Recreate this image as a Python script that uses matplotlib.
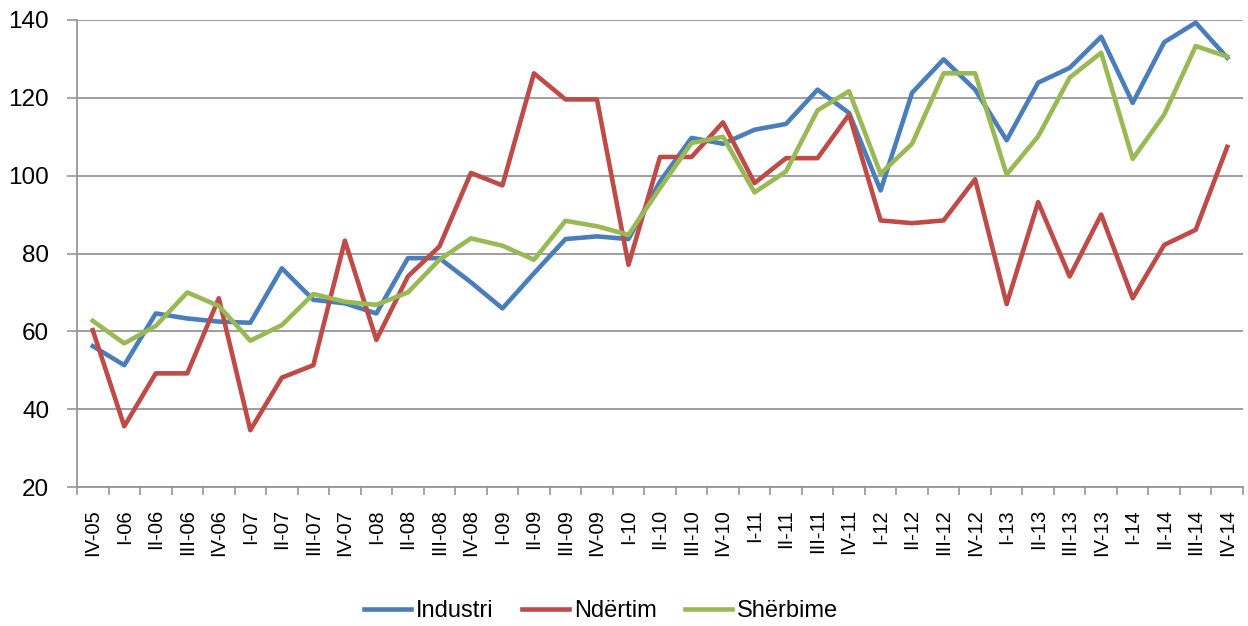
import matplotlib
matplotlib.use("Agg")
import matplotlib.pyplot as plt
import numpy as np

plt.rcParams['font.family'] = ['Liberation Sans', 'DejaVu Sans']

quarters = ['IV-05',
            'I-06', 'II-06', 'III-06', 'IV-06',
            'I-07', 'II-07', 'III-07', 'IV-07',
            'I-08', 'II-08', 'III-08', 'IV-08',
            'I-09', 'II-09', 'III-09', 'IV-09',
            'I-10', 'II-10', 'III-10', 'IV-10',
            'I-11', 'II-11', 'III-11', 'IV-11',
            'I-12', 'II-12', 'III-12', 'IV-12',
            'I-13', 'II-13', 'III-13', 'IV-13',
            'I-14', 'II-14', 'III-14', 'IV-14']

industri = [56.2, 51.3, 64.6, 63.3, 62.5, 62.2, 76.2, 68.1, 67.2, 64.6, 78.8, 78.8,
            72.6, 65.9, 74.9, 83.7, 84.4, 83.7, 98.5, 109.7, 108.2, 111.8, 113.3,
            122.1, 116.1, 96.2, 121.3, 129.9, 122.1, 109.1, 123.9, 127.7, 135.7,
            118.7, 134.3, 139.3, 130.3]

ndertim = [60.3, 35.6, 49.2, 49.2, 68.5, 34.6, 48.1, 51.3, 83.3, 57.8, 74.1, 81.8,
           100.7, 97.5, 126.3, 119.6, 119.6, 77.1, 104.8, 104.8, 113.7, 98.1, 104.5,
           104.5, 115.7, 88.5, 87.8, 88.5, 99.1, 67.0, 93.2, 74.1, 90.0, 68.5, 82.2,
           86.1, 107.4]

sherbime = [62.7, 56.9, 61.4, 70.0, 66.5, 57.6, 61.6, 69.6, 67.6, 66.8, 70.0, 78.4,
            83.9, 82.0, 78.4, 88.4, 87.0, 84.8, 96.8, 108.4, 110.0, 95.7, 101.1,
            116.8, 121.7, 100.5, 108.2, 126.3, 126.3, 100.3, 110.1, 125.2, 131.6,
            104.3, 115.7, 133.3, 130.6]

fig = plt.figure(figsize=(12.48, 6.26), dpi=100)
ax = fig.add_axes([77/1248, 139/626, 1166/1248, 467/626])

x = np.arange(len(quarters))
ax.plot(x, industri, color='#4A7EBB', lw=3.3, label='Industri')
ax.plot(x, ndertim, color='#BE4B48', lw=3.3, label='Ndërtim')
ax.plot(x, sherbime, color='#98B954', lw=3.3, label='Shërbime')

ax.set_xlim(-0.5, len(quarters) - 0.5)
ax.set_ylim(20, 140)
ax.set_yticks(range(20, 141, 20))
ax.yaxis.grid(True, color='#969696', lw=1.3)
ax.set_axisbelow(True)

ax.set_xticks(x)
ax.set_xticklabels(quarters, rotation=90, fontsize=14.5)
ax.set_xticks(np.arange(-0.5, len(quarters)), minor=True)
ax.tick_params(axis='x', which='major', length=0, pad=16)
ax.tick_params(axis='x', which='minor', length=6, color='#969696', width=1.2)
ax.tick_params(axis='y', length=7, color='#969696', width=1.2, labelsize=17.5, pad=13)

for s in ['top', 'right']:
    ax.spines[s].set_visible(False)
for s in ['left', 'bottom']:
    ax.spines[s].set_color('#969696')
    ax.spines[s].set_linewidth(1.3)

fig.legend(loc='center', bbox_to_anchor=(601/1248, 15/626), ncol=3, frameon=False,
           fontsize=17, handlelength=2.0, columnspacing=1.2, handletextpad=0.2)

fig.savefig('out.png', dpi=100)
